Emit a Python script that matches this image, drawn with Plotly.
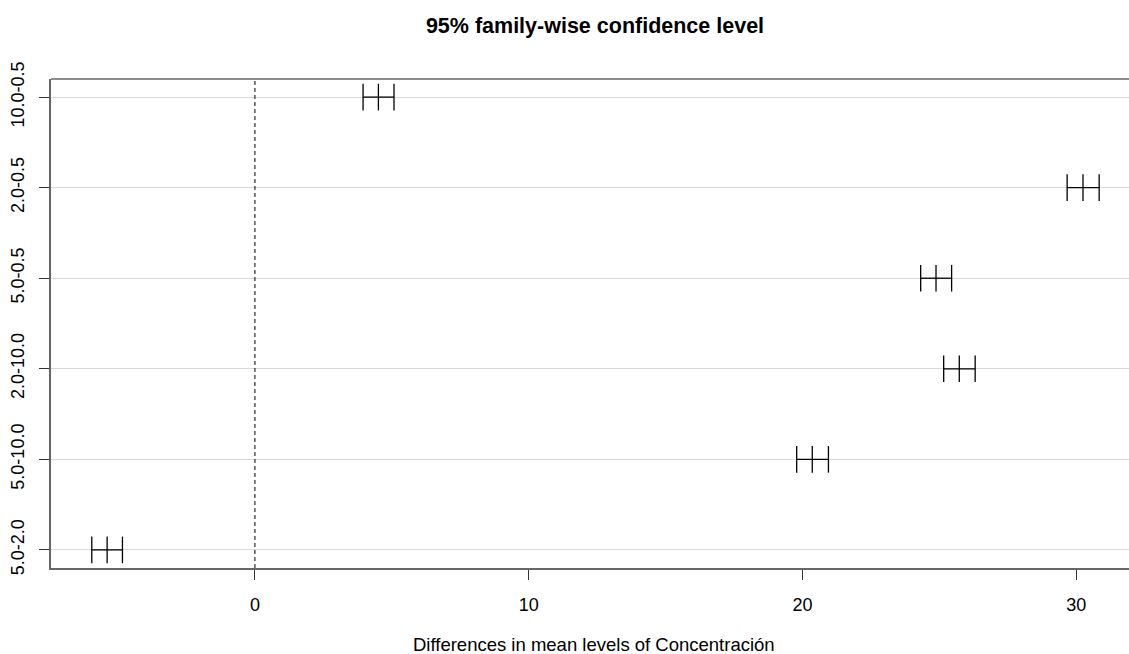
import plotly.graph_objects as go

# Comparisons, bottom-to-top order as displayed
comparisons = ["5.0-2.0", "5.0-10.0", "2.0-10.0", "5.0-0.5", "2.0-0.5", "10.0-0.5"]
diff = [-5.40, 20.36, 25.73, 24.88, 30.25, 4.51]
lwr = [-5.96, 19.79, 25.16, 24.32, 29.67, 3.95]
upr = [-4.84, 20.95, 26.31, 25.45, 30.84, 5.08]
x_ticks = [0, 10, 20, 30]

positions = list(range(1, len(comparisons) + 1))

fig = go.Figure()

# horizontal interval segments
seg_x, seg_y = [], []
for p, lo, hi in zip(positions, lwr, upr):
    seg_x += [lo, hi, None]
    seg_y += [p, p, None]
fig.add_trace(go.Scatter(x=seg_x, y=seg_y, mode="lines",
                         line=dict(color="black", width=1.3),
                         hoverinfo="skip", showlegend=False))

# vertical bar marks at lwr, diff, upr
mk_x, mk_y = [], []
for p, lo, d, hi in zip(positions, lwr, diff, upr):
    mk_x += [lo, d, hi]
    mk_y += [p, p, p]
fig.add_trace(go.Scatter(x=mk_x, y=mk_y, mode="markers",
                         marker=dict(symbol="line-ns", size=19,
                                     line=dict(color="black", width=1.3)),
                         showlegend=False))

# dashed zero line
fig.add_shape(type="line", xref="x", yref="paper", x0=0, x1=0, y0=0, y1=1,
              line=dict(color="black", width=1, dash="4px,3px"), layer="above")

# top border
fig.add_shape(type="line", xref="paper", yref="paper", x0=0, x1=1, y0=1, y1=1,
              line=dict(color="#666666", width=1.5))

fig.update_layout(
    width=1129, height=654,
    margin=dict(l=51, r=0, t=79, b=86),
    plot_bgcolor="white", paper_bgcolor="white",
    font=dict(family="Liberation Sans, Arial, sans-serif", size=18, color="black"),
    title=dict(text="<b>95% family-wise confidence level</b>",
               x=595 / 1129, xanchor="center", y=1 - 25 / 654, yanchor="middle",
               font=dict(size=21.5, color="black")),
    showlegend=False,
)

fig.update_xaxes(
    range=[-7.45, 31.93], tickvals=x_ticks, ticktext=[str(v) for v in x_ticks],
    showgrid=False, zeroline=False,
    showline=True, linecolor="#666666", linewidth=1.5,
    ticks="outside", ticklen=10, tickcolor="#333333", tickwidth=1,
    ticklabelstandoff=10,
    tickfont=dict(size=18, color="black"),
)
fig.update_yaxes(
    range=[0.8, 6.2], tickvals=positions, ticktext=comparisons,
    tickangle=-90, showgrid=True, gridcolor="#d9d9d9", gridwidth=1,
    zeroline=False, showline=True, linecolor="#666666", linewidth=1.5,
    ticks="outside", ticklen=10, tickcolor="#333333", tickwidth=1,
    ticklabelstandoff=8,
    tickfont=dict(size=18, color="black"),
)

fig.add_annotation(text="Differences in mean levels of Concentración",
                   xref="paper", yref="paper", x=(594 - 51) / (1129 - 51),
                   y=-(644 - 568) / (568 - 79), xanchor="center", yanchor="middle",
                   showarrow=False, font=dict(size=18.5, color="black"))

fig.write_html("out.html", config={"displayModeBar": False},
               post_script="document.body.style.margin='0';document.body.style.overflow='hidden';")
